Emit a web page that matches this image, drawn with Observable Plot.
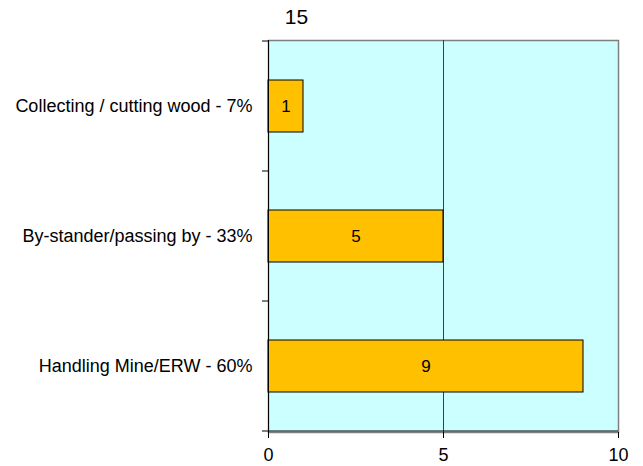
<!DOCTYPE html>
<html>
<head>
<meta charset="utf-8">
<script src="https://cdn.jsdelivr.net/npm/d3@7"></script>
<script src="https://cdn.jsdelivr.net/npm/@observablehq/plot@0.6"></script>
<style>
  html, body { margin: 0; padding: 0; background: #fff; }
  #chart svg { display: block; }
</style>
</head>
<body>
<div id="chart"></div>
<script>
const title = "15";
const categories = ["Collecting / cutting wood - 7%", "By-stander/passing by - 33%", "Handling Mine/ERW - 60%"];
const values = [1, 5, 9];
const xTicks = [0, 5, 10];

const data = categories.map((c, i) => ({category: c, value: values[i]}));

const font = "'Liberation Sans', Arial, sans-serif";

const plot = Plot.plot({
  width: 643,
  height: 466,
  marginLeft: 268,
  marginRight: 25,
  marginTop: 40,
  marginBottom: 34,
  style: {fontFamily: font, fontSize: "18px", color: "#000", background: "#fff"},
  x: {domain: [0, 10], ticks: xTicks},
  y: {domain: categories, paddingInner: 0.6, paddingOuter: 0.3},
  marks: [
    Plot.frame({fill: "#CCFFFF", stroke: "#808080", strokeWidth: 1.5}),
    Plot.ruleX([5], {stroke: "#404040", strokeWidth: 1}),
    Plot.barX(data, {x: "value", y: "category", fill: "#FFC000", stroke: "#000", strokeWidth: 1}),
    Plot.text(data, {x: d => d.value / 2, y: "category", text: d => String(d.value), fill: "#000", fontSize: 17}),
    Plot.ruleX([0], {stroke: "#000", strokeWidth: 1}),
    Plot.axisX({ticks: xTicks, tickSize: 6, tickPadding: 10, label: null, fontSize: 18}),
    Plot.axisY({tickSize: 0, tickPadding: 16, label: null, fontSize: 18}),
    Plot.text([title], {frameAnchor: "top-left", dx: 28, dy: -31, text: d => d, fontSize: 21, textAnchor: "middle"})
  ]
});

document.getElementById("chart").appendChild(plot);

// bottom axis line and y-axis ticks at band boundaries, positioned via the plot's scales
const xs = plot.scale("x");
const ys = plot.scale("y");
const svg = d3.select(plot);
const x0 = xs.apply(0), x10 = xs.apply(10);
const step = ys.step, bw = ys.bandwidth;
const bounds = [];
categories.forEach((c, i) => {
  const start = ys.apply(c) - (step - bw) / 2;
  if (i === 0) bounds.push(start);
  bounds.push(start + step);
});
const yBottom = bounds[bounds.length - 1];
svg.append("line").attr("x1", x0).attr("x2", x10).attr("y1", yBottom).attr("y2", yBottom)
  .attr("stroke", "#000").attr("stroke-width", 1.2);
svg.append("g").selectAll("line").data(bounds).join("line")
  .attr("x1", x0 - 6).attr("x2", x0).attr("y1", d => d).attr("y2", d => d)
  .attr("stroke", "#000").attr("stroke-width", 1);
</script>
</body>
</html>
